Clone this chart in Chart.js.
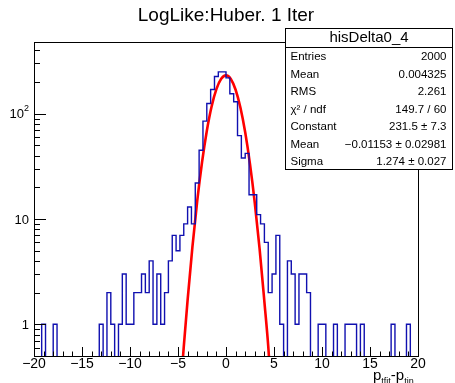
<!DOCTYPE html>
<html>
<head>
<meta charset="utf-8">
<script src="https://cdn.jsdelivr.net/npm/chart.js@4"></script>
<style>
    html, body { margin: 0; padding: 0; background: #fff; }
    #wrap { width: 455px; height: 383px; }
</style>
</head>
<body>
<div id="wrap"><canvas id="histChart" width="455" height="383"></canvas></div>
<script>
// histogram binning: 100 bins from -20 to 20
const X_MIN = -20;
const X_MAX = 20;
const BIN_WIDTH = 0.4;

// entries per bin (left to right)
const binCounts = [
    0, 0, 0, 1, 0, 0, 1, 0, 0, 0,
    0, 0, 0, 0, 0, 0, 0, 0, 1, 0,
    2, 1, 0, 1, 3, 1, 1, 2, 2, 3,
    2, 4, 1, 3, 1, 2, 4, 7, 5, 7,
    9, 13, 9, 22, 45, 85, 125, 170, 226, 250,
    250, 219, 155, 130, 62, 38, 42, 17, 17, 11,
    9, 6, 2, 3, 7, 1, 0, 4, 3, 1,
    3, 3, 2, 0, 0, 1, 1, 0, 0, 1,
    0, 0, 1, 1, 1, 0, 1, 0, 0, 0,
    0, 0, 0, 0, 1, 0, 0, 0, 1, 0
];

// gaussian fit curve
const fitX = [-4.6, -4.4, -4.0, -3.5, -3.0, -2.5, -2.0, -1.5, -1.0, -0.5, 0,
              0.5, 1.0, 1.5, 2.0, 2.5, 3.0, 3.5, 4.0, 4.4, 4.6];
const fitY = [0.35, 0.61, 1.7, 5.4, 14.8, 34.4, 68.5, 117, 171, 215, 231.5,
              214, 169, 114.5, 66.6, 33.2, 14.2, 5.2, 1.63, 0.62, 0.33];

// axes
const Y_MIN = 0.5;
const Y_MAX = 480;
const xTickValues = [-20, -15, -10, -5, 0, 5, 10, 15, 20];
const xTickLabels = ['\u221220', '\u221215', '\u221210', '\u22125', '0', '5', '10', '15', '20'];
const yTickValues = [1, 10, 100];
const yTickLabels = ['1', '10', '10'];
const yTickSup = ['', '', '2'];

// stats box
const statTitle = 'hisDelta0_4';
const statNames = ['Entries', 'Mean', 'RMS', '\u03c7\u00b2 / ndf', 'Constant', 'Mean', 'Sigma'];
const statValues = ['2000', '0.004325', '2.261', '149.7 / 60', '231.5 \u00b1 7.3',
                    '\u22120.01153 \u00b1 0.02981', '1.274 \u00b1 0.027'];

const FONT = '"Liberation Sans", Arial, Helvetica, sans-serif';

// step outline: one point per left bin edge, plus closing edge
const histPoints = binCounts.map((c, i) => ({ x: X_MIN + i * BIN_WIDTH, y: c > 0 ? c : 0.05 }));
histPoints.push({ x: X_MAX, y: histPoints[histPoints.length - 1].y });

const fitPoints = fitX.map((x, i) => ({ x: x, y: fitY[i] }));

const rootStyle = {
    id: 'rootStyle',
    afterDraw(chart) {
        const ctx = chart.ctx;
        const area = chart.chartArea;
        const xs = chart.scales.x;
        const ys = chart.scales.y;

        ctx.save();
        ctx.strokeStyle = '#000';
        ctx.lineWidth = 1;

        // frame
        ctx.strokeRect(Math.round(area.left) + 0.5, Math.round(area.top) + 0.5,
                       Math.round(area.right - area.left), Math.round(area.bottom - area.top));

        // x ticks (inside, from bottom)
        ctx.beginPath();
        for (let v = X_MIN; v <= X_MAX; v++) {
            const px = Math.round(xs.getPixelForValue(v)) + 0.5;
            const len = v % 5 === 0 ? 9 : 4.5;
            ctx.moveTo(px, area.bottom);
            ctx.lineTo(px, area.bottom - len);
        }
        // y ticks (inside, from left)
        for (let d = 0.1; d < Y_MAX; d *= 10) {
            for (let m = 1; m <= 9; m++) {
                const v = m * d;
                if (v < Y_MIN || v > Y_MAX) continue;
                const py = Math.round(ys.getPixelForValue(v)) + 0.5;
                const len = m === 1 ? 12 : 6;
                ctx.moveTo(area.left, py);
                ctx.lineTo(area.left + len, py);
            }
        }
        ctx.stroke();

        // x tick labels
        ctx.fillStyle = '#000';
        ctx.font = '14px ' + FONT;
        ctx.textAlign = 'center';
        ctx.textBaseline = 'middle';
        xTickValues.forEach((v, i) => {
            ctx.fillText(xTickLabels[i], xs.getPixelForValue(v), area.bottom + 8);
        });

        // y tick labels
        ctx.textAlign = 'right';
        yTickValues.forEach((v, i) => {
            const py = ys.getPixelForValue(v);
            let right = area.left - 5;
            if (yTickSup[i]) {
                ctx.font = '9px ' + FONT;
                ctx.fillText(yTickSup[i], right, py - 5);
                right -= ctx.measureText(yTickSup[i]).width;
            }
            ctx.font = '13px ' + FONT;
            ctx.fillText(yTickLabels[i], right, py + 1);
        });

        // x axis title: p_tfit - p_tin
        ctx.textAlign = 'left';
        ctx.textBaseline = 'alphabetic';
        let tx = 373;
        const base = 380;
        const parts = [['p', 15, 0], ['tfit', 9, 4], ['-p', 15, 0], ['tin', 9, 4]];
        parts.forEach(p => {
            ctx.font = p[1] + 'px ' + FONT;
            ctx.fillText(p[0], tx, base + p[2]);
            tx += ctx.measureText(p[0]).width;
        });

        // title
        ctx.font = '19px ' + FONT;
        ctx.textAlign = 'center';
        ctx.textBaseline = 'middle';
        ctx.fillText('LogLike:Huber. 1 Iter', 226, 16);

        // stats box
        const bx = 285.5, by = 28.5, bw = 167, bh = 141;
        ctx.fillStyle = '#fff';
        ctx.fillRect(bx, by, bw, bh);
        ctx.strokeRect(bx, by, bw, bh);
        ctx.beginPath();
        ctx.moveTo(bx, 47.5);
        ctx.lineTo(bx + bw, 47.5);
        ctx.stroke();

        ctx.fillStyle = '#000';
        ctx.font = '15px ' + FONT;
        ctx.fillText(statTitle, bx + bw / 2, 38);

        ctx.font = '11.5px ' + FONT;
        statNames.forEach((name, i) => {
            const ty = 57 + i * 17.5;
            ctx.textAlign = 'left';
            ctx.fillText(name, bx + 5, ty);
            ctx.textAlign = 'right';
            ctx.fillText(statValues[i], bx + bw - 6, ty);
        });
        ctx.restore();
    }
};

new Chart(document.getElementById('histChart'), {
    type: 'line',
    data: {
        datasets: [
            {
                label: 'hisDelta0_4',
                data: histPoints,
                stepped: 'after',
                borderColor: '#1010b0',
                borderWidth: 1.4,
                pointRadius: 0,
                fill: false
            },
            {
                label: 'fit',
                data: fitPoints,
                borderColor: '#ff0000',
                borderWidth: 2.6,
                pointRadius: 0,
                cubicInterpolationMode: 'monotone',
                fill: false
            }
        ]
    },
    options: {
        responsive: false,
        animation: false,
        devicePixelRatio: 1,
        layout: { padding: { left: 34, right: 37, top: 42, bottom: 27 } },
        plugins: { legend: { display: false }, tooltip: { enabled: false } },
        scales: {
            x: { type: 'linear', min: X_MIN, max: X_MAX, display: false },
            y: { type: 'logarithmic', min: Y_MIN, max: Y_MAX, display: false }
        }
    },
    plugins: [rootStyle]
});
</script>
</body>
</html>
